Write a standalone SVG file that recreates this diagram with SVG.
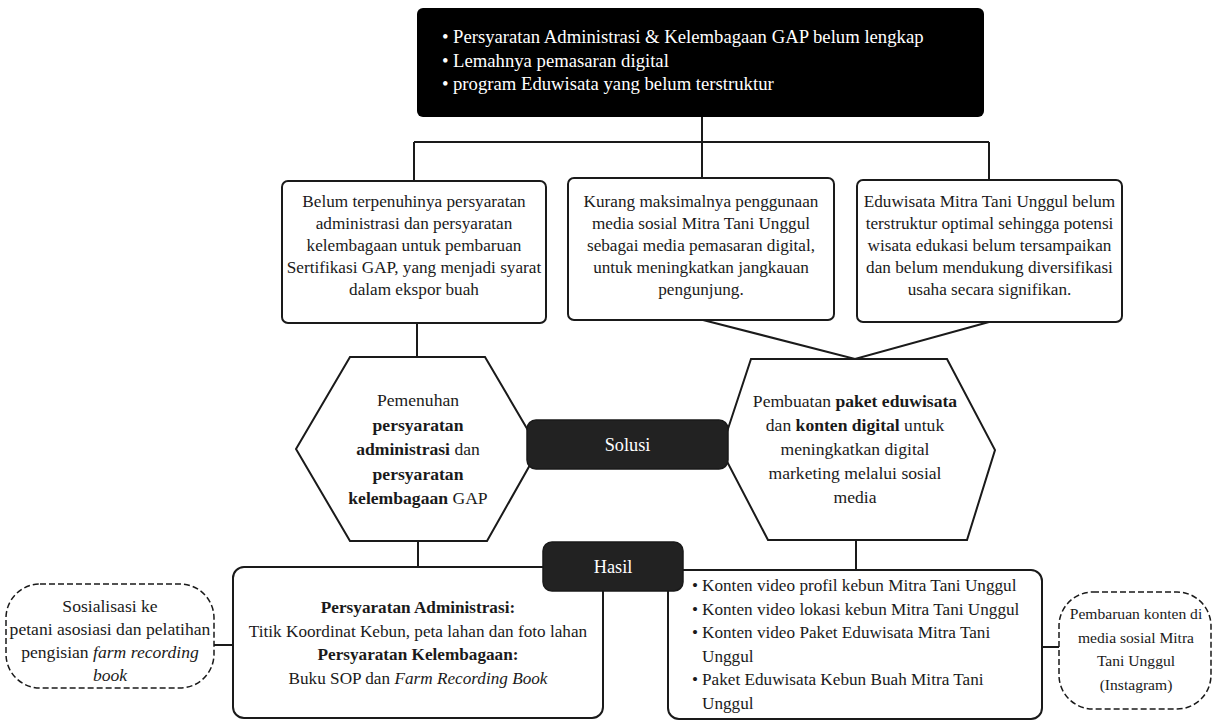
<svg xmlns="http://www.w3.org/2000/svg" width="1213" height="720" viewBox="0 0 1213 720">
<style>
text{font-family:"Liberation Serif","Times New Roman",serif;fill:#1a1a1a}
.c{text-anchor:middle}
.b{font-weight:bold}
.i{font-style:italic}
.w{fill:#fff}
.box{fill:#fff;stroke:#1a1a1a;stroke-width:2}
.dark{fill:#222;stroke:#1a1a1a;stroke-width:1.5}
.dash{fill:#fff;stroke:#1a1a1a;stroke-width:1.5;stroke-dasharray:6 3}
.ln{fill:none;stroke:#1a1a1a;stroke-width:2}
</style>
<rect width="1213" height="720" fill="#fff"/>
<g id="connectors">
<path class="ln" d="M702 117V142M414 142H989M414 142V181M702 142V178M989 142V180"/>
<path class="ln" d="M417 323V357"/>
<path class="ln" d="M703 320L855 359L989 322"/>
<path class="ln" d="M418 541V567"/>
<path class="ln" d="M856 541V570"/>
<path class="ln" d="M214 645H233"/>
<path class="ln" d="M1042 647H1059"/>
</g>
<g id="top">
<rect x="417" y="8" width="567" height="109" rx="6" fill="#000"/>
<g font-size="18.7">
<text class="w" x="442" y="43">•</text><text class="w" x="453" y="43">Persyaratan Administrasi &amp; Kelembagaan GAP belum lengkap</text>
<text class="w" x="442" y="66.5">•</text><text class="w" x="453" y="66.5">Lemahnya pemasaran digital</text>
<text class="w" x="442" y="90">•</text><text class="w" x="453" y="90">program Eduwisata yang belum terstruktur</text>
</g>
</g>
<g id="problem1">
<rect class="box" x="282" y="181" width="264" height="142" rx="6"/>
<g font-size="17.2">
<text class="c" x="414" y="206.5">Belum terpenuhinya persyaratan</text>
<text class="c" x="414" y="228.5">administrasi dan persyaratan</text>
<text class="c" x="414" y="251">kelembagaan untuk pembaruan</text>
<text class="c" x="414" y="273">Sertifikasi GAP, yang menjadi syarat</text>
<text class="c" x="414" y="295">dalam ekspor buah</text>
</g>
</g>
<g id="problem2">
<rect class="box" x="568" y="178" width="266" height="142" rx="6"/>
<g font-size="17.2">
<text class="c" x="701" y="206.5">Kurang maksimalnya penggunaan</text>
<text class="c" x="701" y="228.5">media sosial Mitra Tani Unggul</text>
<text class="c" x="701" y="251">sebagai media pemasaran digital,</text>
<text class="c" x="701" y="273">untuk meningkatkan jangkauan</text>
<text class="c" x="701" y="295">pengunjung.</text>
</g>
</g>
<g id="problem3">
<rect class="box" x="857" y="180" width="265" height="142" rx="6"/>
<g font-size="17.2">
<text class="c" x="989.5" y="206.5">Eduwisata Mitra Tani Unggul belum</text>
<text class="c" x="989.5" y="228.5">terstruktur optimal sehingga potensi</text>
<text class="c" x="989.5" y="251">wisata edukasi belum tersampaikan</text>
<text class="c" x="989.5" y="273">dan belum mendukung diversifikasi</text>
<text class="c" x="989.5" y="295">usaha secara signifikan.</text>
</g>
</g>
<g id="solution1">
<polygon class="box" points="296,449 350,357 485,357 539,449 487,541 350,541"/>
<g font-size="17.6">
<text class="c" x="418" y="406">Pemenuhan</text>
<text class="c b" x="418" y="430.5">persyaratan</text>
<text class="c" x="418" y="455"><tspan class="b">administrasi</tspan> dan</text>
<text class="c b" x="418" y="479.5">persyaratan</text>
<text class="c" x="418" y="504"><tspan class="b">kelembagaan</tspan> GAP</text>
</g>
</g>
<g id="solution2">
<polygon class="box" points="721,450 751,359 947,359 995,450 967,540 768,540"/>
<g font-size="17.6">
<text class="c" x="855" y="407">Pembuatan <tspan class="b">paket eduwisata</tspan></text>
<text class="c" x="855" y="431">dan <tspan class="b">konten digital</tspan> untuk</text>
<text class="c" x="855" y="455">meningkatkan digital</text>
<text class="c" x="855" y="479">marketing melalui sosial</text>
<text class="c" x="855" y="503">media</text>
</g>
</g>
<g id="solusi">
<rect class="dark" x="527" y="420" width="201" height="49" rx="9"/>
<text class="c w" x="627.5" y="451" font-size="18.3">Solusi</text>
</g>
<g id="result1">
<rect class="box" x="233" y="567" width="370" height="151" rx="11"/>
<g font-size="17.2">
<text class="c b" x="418" y="613">Persyaratan Administrasi:</text>
<text class="c" x="418" y="636.5">Titik Koordinat Kebun, peta lahan dan foto lahan</text>
<text class="c b" x="418" y="660">Persyaratan Kelembagaan:</text>
<text class="c" x="418" y="683.5">Buku SOP dan <tspan class="i">Farm Recording Book</tspan></text>
</g>
</g>
<g id="result2">
<rect class="box" x="668" y="570" width="374" height="149" rx="11"/>
<g font-size="17.2">
<text x="692" y="591">•</text><text x="702" y="591">Konten video profil kebun Mitra Tani Unggul</text>
<text x="692" y="614.5">•</text><text x="702" y="614.5">Konten video lokasi kebun Mitra Tani Unggul</text>
<text x="692" y="638">•</text><text x="702" y="638">Konten video Paket Eduwisata Mitra Tani</text>
<text x="702" y="661.5">Unggul</text>
<text x="692" y="685">•</text><text x="702" y="685">Paket Eduwisata Kebun Buah Mitra Tani</text>
<text x="702" y="708.5">Unggul</text>
</g>
</g>
<g id="hasil">
<rect class="dark" x="543" y="542" width="140" height="49" rx="9"/>
<text class="c w" x="613" y="573" font-size="18.3">Hasil</text>
</g>
<g id="note1">
<rect class="dash" x="6" y="584" width="208" height="104" rx="34"/>
<g font-size="17.6">
<text class="c" x="110" y="612">Sosialisasi ke</text>
<text class="c" x="110" y="635">petani asosiasi dan pelatihan</text>
<text class="c" x="110" y="658">pengisian <tspan class="i">farm recording</tspan></text>
<text class="c i" x="110" y="681">book</text>
</g>
</g>
<g id="note2">
<rect class="dash" x="1059" y="592" width="152" height="117" rx="34"/>
<g font-size="15.6">
<text class="c" x="1136" y="619">Pembaruan konten di</text>
<text class="c" x="1136" y="643">media sosial Mitra</text>
<text class="c" x="1136" y="666">Tani Unggul</text>
<text class="c" x="1136" y="690">(Instagram)</text>
</g>
</g>
</svg>
